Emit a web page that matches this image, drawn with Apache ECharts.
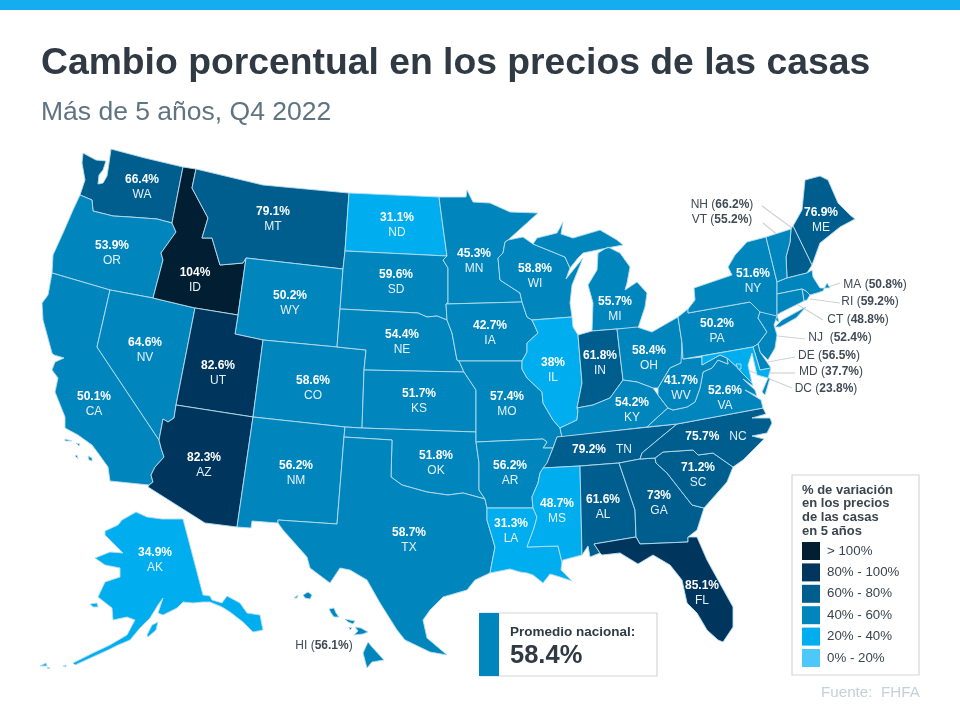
<!DOCTYPE html>
<html>
<head>
<meta charset="utf-8">
<title>Cambio porcentual en los precios de las casas</title>
<script src="https://cdn.jsdelivr.net/npm/echarts@6/dist/echarts.min.js"></script>
<style>
  html, body { margin: 0; padding: 0; background: #fff; }
  #main { width: 960px; height: 720px; }
</style>
</head>
<body>
<div id="main"></div>
<script>
// values
var stateCodes = ['WA','OR','CA','NV','ID','MT','WY','UT','AZ','CO','NM','ND','SD','NE','KS','OK','TX','MN','IA','MO','AR','LA','WI','IL','MI','IN','OH','KY','TN','MS','AL','GA','FL','SC','NC','VA','WV','PA','NY','ME','NH','VT','MA','RI','CT','NJ','DE','MD','DC','AK','HI'];
var stateValues = [66.4,53.9,50.1,64.6,104,79.1,50.2,82.6,82.3,58.6,56.2,31.1,59.6,54.4,51.7,51.8,58.7,45.3,42.7,57.4,56.2,31.3,58.8,38,55.7,61.8,58.4,54.2,79.2,48.7,61.6,73,85.1,71.2,75.7,52.6,41.7,50.2,51.6,76.9,66.2,55.2,50.8,59.2,48.8,52.4,56.5,37.7,23.8,34.9,56.1];
var outsideStates = ['NH','VT','MA','RI','CT','NJ','DE','MD','DC','HI'];
var inlineStates = ['TN','NC'];
var legendLabels = ['> 100%','80% - 100%','60% - 80%','40% - 60%','20% - 40%','0% - 20%'];
var legendMins = [100,80,60,40,20,0];
var legendMaxs = [Infinity,100,80,60,40,20];
var legendColors = ['#011E33','#00365D','#005E8E','#0085BD','#00AEEF','#4DC8F8'];
var legendTitle = ['% de variación','en los precios','de las casas','en 5 años'];
var nationalLabel = 'Promedio nacional:';
var nationalValue = '58.4%';
// the original paints these two in another band than their number says
var paintedBand = { NV: 3, MS: 4 };

// state outlines traced in page pixels
var shapes = {
  WA:['83,153 96,160 106,161 103,170 99,175 98,184 103,183 107,176 109,163 111,149 145,158 183,167 172,223 157,219 130,217 113,216 93,211 92,200 80,195 85,180 82,163'],
  OR:['80,195 92,200 93,211 113,216 130,217 157,219 172,223 176,232 161,253 163,260 153,298 110,290 52,273 53,255 63,233 73,210'],
  ID:['183,167 196,169 192,188 208,218 202,238 212,238 220,265 243,263 246,258 238,315 195,308 153,298 163,260 161,253 176,232 172,223'],
  MT:['196,169 263,185 349,193 345,251 343,269 246,258 243,263 220,265 212,238 202,238 208,218 192,188'],
  WY:['246,258 343,269 340,309 337,347 263,340 235,334 238,315'],
  NV:['110,290 153,298 195,308 176,405 174,418 168,422 163,419 159,440 97,347'],
  UT:['195,308 238,315 235,334 263,340 253,417 176,405'],
  CO:['263,340 337,347 366,350 364,370 362,428 345,427 253,417'],
  CA:['52,273 110,290 97,347 159,440 161,448 164,457 155,467 151,475 153,482 149,485 110,481 108,467 98,453 92,445 78,435 65,428 65,417 55,392 58,378 52,370 55,362 64,358 54,355 52,353 43,320 42,303 48,295',
      '65,439 72,441 71,442 65,441','76,443 80,444 79,446','75,456 77,455 78,459','88,456 92,458 92,461 89,460'],
  AZ:['176,405 253,417 237,527 205,523 148,487 149,485 153,482 151,475 155,467 164,457 161,448 159,440 163,419 168,422 174,418'],
  NM:['253,417 345,427 344,437 337,524 278,520 278,523 252,521 251,528 237,527'],
  ND:['349,193 439,197 443,227 447,256 345,251'],
  SD:['345,251 447,256 443,260 448,268 448,303 446,304 447,320 437,316 427,317 418,313 340,309 343,269'],
  NE:['340,309 418,313 427,317 437,316 447,320 452,333 457,360 459,361 464,372 364,370 366,350 337,347'],
  KS:['364,370 464,372 468,378 476,390 476,432 362,428'],
  OK:['345,427 362,428 476,432 476,442 479,463 479,490 485,499 463,493 448,495 427,492 402,485 391,477 392,440 344,437'],
  TX:['344,437 392,440 391,477 402,485 427,492 448,495 463,493 485,499 487,508 487,520 495,547 490,573 475,580 467,590 443,597 430,610 423,620 427,638 447,655 430,652 405,640 397,630 380,603 367,580 350,570 340,568 330,583 310,568 307,557 283,530 278,523 278,520 337,524'],
  MN:['439,197 466,197 467,190 473,202 490,203 510,212 538,213 508,240 505,242 503,253 498,258 500,280 520,293 522,302 446,304 448,303 448,268 443,260 447,256 443,227'],
  IA:['446,304 522,302 527,317 532,320 538,333 527,343 527,352 522,361 459,361 457,360 452,333 447,320'],
  MO:['459,361 522,361 522,369 527,378 542,392 543,403 553,420 560,428 562,437 557,437 553,448 543,448 547,442 543,439 476,442 476,432 476,390 468,378 464,372'],
  AR:['476,442 543,439 547,442 543,448 553,448 547,463 540,473 538,483 532,497 533,508 487,508 485,499 479,490 479,463'],
  LA:['487,508 533,508 537,517 534,528 527,547 558,546 562,562 561,570 572,581 560,577 550,574 543,583 533,575 527,573 520,572 510,569 490,573 495,547 487,520'],
  WI:['508,240 523,237 533,244 565,257 570,268 566,279 583,258 572,285 570,303 572,317 532,320 527,317 522,302 520,293 500,280 498,258 503,253 505,242'],
  IL:['532,320 572,317 573,327 578,335 582,383 578,403 577,408 578,410 577,420 560,428 553,420 543,403 542,392 527,378 522,369 522,361 527,352 527,343 538,333'],
  MI:['533,244 537,238 557,233 563,222 561,234 573,238 600,230 617,240 623,245 607,248 583,253 578,258 570,268 565,257',
      '608,247 620,253 630,267 627,283 625,290 637,282 647,293 645,307 638,328 617,329 592,331 593,303 588,285 597,270 598,253'],
  IN:['578,335 592,331 617,329 623,380 610,398 593,405 577,408 578,403 582,383'],
  OH:['617,329 637,327 652,332 678,317 682,343 683,359 681,363 670,368 658,388 653,388 637,382 623,380'],
  KY:['562,437 647,427 660,415 668,408 658,395 653,388 637,382 623,380 610,398 593,405 577,408 578,410 577,420 560,428'],
  TN:['557,437 677,424 660,438 642,453 640,459 619,463 580,466 543,468 547,463 553,448'],
  MS:['543,468 580,466 582,555 563,560 562,562 558,546 527,547 534,528 537,517 533,508 532,497 538,483 540,473'],
  AL:['580,466 619,463 635,510 636,537 594,544 600,553 590,557 588,546 582,555'],
  GA:['619,463 640,459 655,458 656,463 667,473 692,505 704,508 697,530 688,537 688,542 640,544 636,537 635,510'],
  FL:['594,544 636,537 640,544 688,542 688,537 697,537 707,560 718,580 733,607 733,627 723,642 718,640 707,630 697,613 687,603 682,580 670,565 653,555 638,564 620,553 602,555 600,553'],
  SC:['656,463 655,458 663,452 693,450 698,455 713,453 733,467 727,482 704,508 692,505 667,473'],
  NC:['677,424 763,408 766,414 752,418 770,418 772,423 767,433 752,436 764,439 760,443 743,460 733,467 713,453 698,455 693,450 663,452 655,458 640,459 642,453 660,438'],
  VA:['647,427 677,424 763,408 761,400 745,390 757,396 755,390 743,379 753,386 752,383 742,373 738,368 727,358 728,364 718,360 712,368 703,372 700,388 695,402 687,407 673,410 668,408 660,415',
      '768,378 770,378 765,395 762,392'],
  WV:['682,343 683,359 702,357 702,365 720,355 727,358 728,364 718,360 712,368 703,372 700,388 695,402 687,407 673,410 668,408 658,395 658,388 670,368 681,363'],
  PA:['678,317 688,309 688,313 750,302 760,312 758,318 767,332 758,344 753,347 683,359 682,343'],
  NY:['688,309 695,300 694,288 732,275 728,267 735,255 747,242 766,237 777,282 777,315 779,322 760,312 750,302 688,313',
      '775,327 782,320 802,309 806,307 796,318 780,327'],
  VT:['766,237 791,229 790,242 786,257 787,278 777,282'],
  NH:['793,226 812,265 807,273 787,278 786,257 790,242 791,229'],
  ME:['793,226 802,210 805,180 820,176 828,180 838,203 850,215 855,219 840,227 830,235 820,243 812,265'],
  MA:['777,282 787,278 807,273 812,270 813,277 820,288 830,288 827,283 823,291 817,293 810,295 806,291 802,289 777,294'],
  CT:['777,294 802,289 804,301 780,313 777,315'],
  RI:['802,289 806,291 810,295 807,300 804,301'],
  NJ:['760,312 777,316 774,325 777,335 775,348 768,360 760,352 758,344 767,332 758,318'],
  DE:['753,347 758,344 760,352 771,368 760,370'],
  MD:['702,356 753,347 760,370 771,368 768,378 757,375 752,353 748,365 752,383 742,373 738,368 727,358 720,355 702,365'],
  DC:['736,364 741,364 741,369 738,369'],
  AK:['136,512 147,517 162,519 183,519 203,595 210,596 212,600 222,603 227,596 240,603 247,613 260,615 263,630 253,632 243,622 230,612 222,607 210,602 203,602 193,603 183,602 177,608 163,615 158,613 163,598 158,605 150,618 140,628 130,640 118,645 108,650 97,655 75,665 73,663 93,653 110,645 127,635 135,620 127,617 113,620 112,608 98,597 105,582 120,577 120,568 105,565 95,558 110,552 123,553 117,547 105,535 105,531 118,525 122,520',
      '147,635 152,625 158,622 156,630 148,637','90,604 97,603 98,607 93,607','40,666 46,663 47,666','47,667 50,668 48,669','63,666 66,665 66,667'],
  HI:['294,598 298,595 297,598','303,595 308,592 312,595 310,599 305,598','329,609 334,608 336,613 339,617 334,617 331,613','345,619 355,621 353,624 348,622','349,627 352,628 350,630','355,627 361,628 368,632 363,634 354,635 358,631','368,642 372,647 384,660 372,662 367,668 363,653']
};

// where each state's text sits
var labelSpots = {
  WA:[142,187],OR:[112,253],CA:[94,404],NV:[145,350],ID:[195,280],MT:[273,219],WY:[290,303],UT:[218,373],AZ:[204,465],CO:[313,388],NM:[296,473],
  ND:[397,225],SD:[396,282],NE:[402,342],KS:[419,401],OK:[436,463],TX:[409,540],MN:[474,261],IA:[490,333],MO:[507,404],AR:[510,473],LA:[511,531],
  WI:[535,276],IL:[553,370],MI:[615,309],IN:[600,363],OH:[649,358],KY:[632,410],TN:[602,450],MS:[557,511],AL:[603,507],GA:[659,503],FL:[702,593],
  SC:[698,475],NC:[716,437],VA:[725,398],WV:[681,388],PA:[717,331],NY:[753,281],ME:[821,220],AK:[155,560],
  NH:[722,205],VT:[722,220],MA:[875,285],RI:[870,302],CT:[858,320],NJ:[840,338],DE:[829,356],MD:[831,372],DC:[826,389],HI:[324,646]
};

var leaderLines = [
  [762,206,792,228],[763,223,780,237],[840,283,825,288],[840,303,810,299],[823,320,795,303],
  [805,339,778,336],[795,357,768,362],[795,373,765,373],[792,388,740,367]
];

function parseRing(s) {
  return s.split(' ').map(function (p) { return p.split(',').map(Number); });
}

function bandOf(code, value) {
  if (paintedBand[code] !== undefined) return paintedBand[code];
  for (var i = 0; i < legendMins.length; i++) {
    if (value >= legendMins[i]) return i;
  }
  return legendMins.length - 1;
}

var geoJson = {
  type: 'FeatureCollection',
  features: stateCodes.map(function (code) {
    return {
      type: 'Feature',
      properties: { name: code, cp: labelSpots[code] },
      geometry: {
        type: 'MultiPolygon',
        coordinates: shapes[code].map(function (s) { return [parseRing(s)]; })
      }
    };
  })
};
echarts.registerMap('usa', geoJson);

var myChart = echarts.init(document.getElementById('main'));

var graphicItems = [
  { type: 'rect', shape: { x: 0, y: 0, width: 960, height: 10 }, style: { fill: '#14AEF0' } },
  // national average box
  { type: 'rect', shape: { x: 480, y: 613, width: 177, height: 63 }, style: { fill: '#fff', stroke: '#D4D6D8', lineWidth: 1.2 } },
  { type: 'rect', shape: { x: 479, y: 613, width: 20, height: 63 }, style: { fill: '#0085BD' } },
  { type: 'text', x: 510, y: 632, style: { text: nationalLabel, font: 'bold 13.5px "Liberation Sans", Arial', fill: '#2F3A44', textVerticalAlign: 'middle' } },
  { type: 'text', x: 510, y: 656, style: { text: nationalValue, font: 'bold 25.5px "Liberation Sans", Arial', fill: '#2F3A44', textVerticalAlign: 'middle' } },
  // legend box
  { type: 'rect', z: -1, shape: { x: 792, y: 475, width: 127, height: 200 }, style: { fill: '#fff', stroke: '#D4D6D8', lineWidth: 1.2 } },
  { type: 'text', x: 821, y: 693, style: { text: 'Fuente:  FHFA', font: '15.2px "Liberation Sans", Arial', fill: '#C5D1D8', textVerticalAlign: 'middle' } }
];
legendTitle.forEach(function (line, i) {
  graphicItems.push({ type: 'text', x: 802, y: 490 + i * 13.7, style: { text: line, font: 'bold 13px "Liberation Sans", Arial', fill: '#3A444D', textVerticalAlign: 'middle' } });
});
leaderLines.forEach(function (l) {
  graphicItems.push({ type: 'line', shape: { x1: l[0], y1: l[1], x2: l[2], y2: l[3] }, style: { stroke: '#CFD2D4', lineWidth: 1.2 } });
});

var option = {
  backgroundColor: '#fff',
  animation: false,
  title: [
    { text: 'Cambio porcentual en los precios de las casas', left: 41, top: 45, padding: 0,
      textStyle: { fontFamily: '"Liberation Sans", Arial', fontWeight: 'bold', fontSize: 37.3, color: '#2F3A44' } },
    { text: 'Más de 5 años, Q4 2022', left: 41, top: 99, padding: 0,
      textStyle: { fontFamily: '"Liberation Sans", Arial', fontWeight: 'normal', fontSize: 26.5, color: '#5F7480' } }
  ],
  // legend only, the state colours come from bandOf
  visualMap: {
    type: 'piecewise',
    seriesIndex: [],
    orient: 'vertical',
    align: 'left',
    left: 802,
    top: 542,
    padding: 0,
    itemWidth: 18,
    itemHeight: 18,
    itemGap: 3.4,
    textGap: 7,
    itemSymbol: 'rect',
    selectedMode: false,
    hoverLink: false,
    textStyle: { fontFamily: '"Liberation Sans", Arial', fontSize: 13.3, color: '#3A444D' },
    pieces: legendLabels.map(function (label, i) {
      return { gte: legendMins[i], lt: legendMaxs[i], label: label, color: legendColors[i] };
    })
  },
  series: [{
    type: 'map',
    map: 'usa',
    projection: {
      project: function (p) { return p; },
      unproject: function (p) { return p; }
    },
    boundingCoords: [[0, 0], [960, 720]],
    layoutCenter: ['50%', '50%'],
    layoutSize: 960,
    roam: false,
    silent: true,
    selectedMode: false,
    itemStyle: { borderColor: '#B5DDEE', borderWidth: 0.9 },
    emphasis: { disabled: true },
    label: {
      show: true,
      fontFamily: '"Liberation Sans", Arial',
      formatter: function (p) {
        var v = p.value + '%';
        if (outsideStates.indexOf(p.name) >= 0) {
          return '{o|' + p.name + (p.name === 'NJ' ? '  (' : ' (') + '}{ob|' + v + '}{o|)}';
        }
        if (inlineStates.indexOf(p.name) >= 0) {
          return '{v|' + v + '}{c|   ' + p.name + '}';
        }
        return '{v|' + v + '}\n{c|' + p.name + '}';
      },
      rich: {
        v: { color: '#fff', fontWeight: 'bold', fontSize: 12, lineHeight: 15, fontFamily: '"Liberation Sans", Arial' },
        c: { color: '#E4F1F8', fontSize: 12, lineHeight: 15, fontFamily: '"Liberation Sans", Arial' },
        o: { color: '#3F4A54', fontSize: 12, fontFamily: '"Liberation Sans", Arial' },
        ob: { color: '#3F4A54', fontWeight: 'bold', fontSize: 12, fontFamily: '"Liberation Sans", Arial' }
      }
    },
    data: stateCodes.map(function (code, i) {
      return {
        name: code,
        value: stateValues[i],
        itemStyle: { areaColor: legendColors[bandOf(code, stateValues[i])] }
      };
    })
  }],
  graphic: graphicItems
};
myChart.setOption(option);
</script>
</body>
</html>
